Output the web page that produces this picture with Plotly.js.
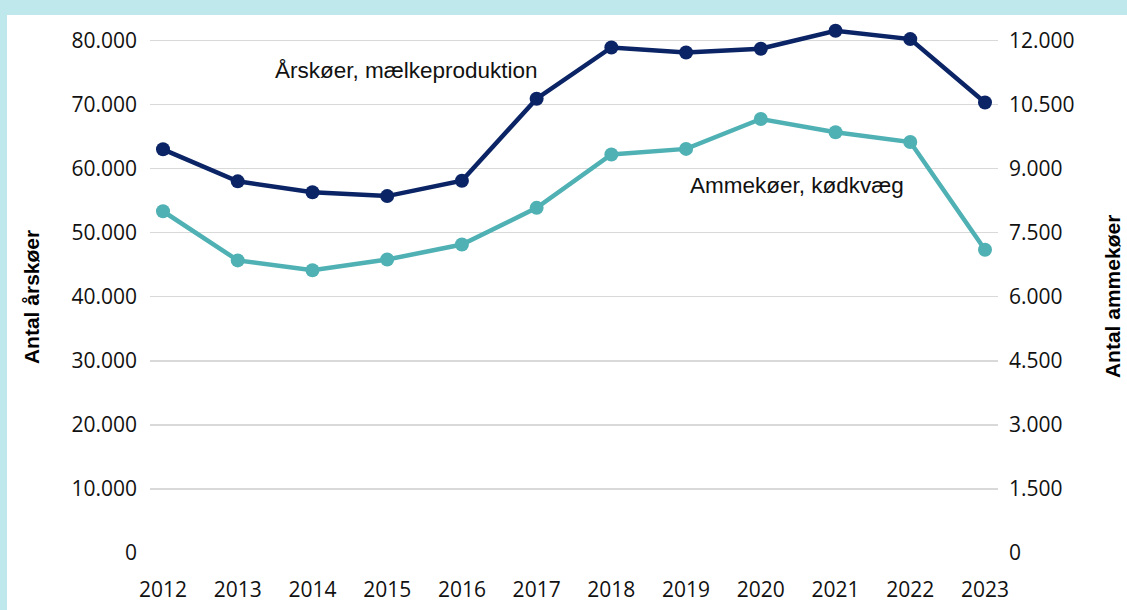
<!DOCTYPE html>
<html>
<head>
<meta charset="utf-8">
<script src="https://cdn.plot.ly/plotly-3.0.1.min.js"></script>
<style>
  html, body { margin: 0; padding: 0; background: #bfe8ed; width: 1127px; height: 610px; overflow: hidden; }
  #card { position: absolute; left: 7px; top: 15px; width: 1120px; height: 595px; background: #ffffff; }
  #chart { position: absolute; left: 0; top: 0; width: 1127px; height: 610px; }
</style>
</head>
<body>
<div id="card"></div>
<div id="chart"></div>
<script>
const years = [2012, 2013, 2014, 2015, 2016, 2017, 2018, 2019, 2020, 2021, 2022, 2023];
const aarskoeer = [63000, 58000, 56300, 55700, 58100, 70900, 78900, 78100, 78700, 81500, 80200, 70300];
const ammekoeer = [8000, 6850, 6620, 6870, 7220, 8080, 9330, 9460, 10160, 9850, 9620, 7100];
const leftTicks = [0, 10000, 20000, 30000, 40000, 50000, 60000, 70000, 80000];
const leftTickText = ['0', '10.000', '20.000', '30.000', '40.000', '50.000', '60.000', '70.000', '80.000'];
const rightTicks = [0, 1500, 3000, 4500, 6000, 7500, 9000, 10500, 12000];
const rightTickText = ['0', '1.500', '3.000', '4.500', '6.000', '7.500', '9.000', '10.500', '12.000'];
const seriesNames = ['Årskøer, mælkeproduktion', 'Ammekøer, kødkvæg'];
const axisTitles = ['Antal årskøer', 'Antal ammekøer'];

const navy = '#0b2466';
const teal = '#4fb1b4';
const tickFont = { family: 'Open Sans, sans-serif', size: 21, color: '#111111' };
const titleFont = { family: 'Liberation Sans, Arial, sans-serif', size: 21, color: '#000000', weight: 'bold' };
const annFont = { family: 'Liberation Sans, Arial, sans-serif', size: 22.5, color: '#111111' };

const traces = [
  {
    x: years, y: aarskoeer, name: seriesNames[0], type: 'scatter', mode: 'lines+markers',
    line: { color: navy, width: 4.5 }, marker: { color: navy, size: 14 },
    cliponaxis: false, yaxis: 'y'
  },
  {
    x: years, y: ammekoeer, name: seriesNames[1], type: 'scatter', mode: 'lines+markers',
    line: { color: teal, width: 4.5 }, marker: { color: teal, size: 14 },
    cliponaxis: false, yaxis: 'y2'
  }
];

const layout = {
  width: 1127, height: 610,
  margin: { l: 150, r: 129, t: 25, b: 57 },
  paper_bgcolor: 'rgba(0,0,0,0)',
  plot_bgcolor: 'rgba(0,0,0,0)',
  showlegend: false,
  xaxis: {
    range: [2011.826, 2023.174],
    tickvals: years,
    ticktext: years.map(String),
    showgrid: false, zeroline: false, showline: false,
    ticks: '', tickfont: tickFont, ticklabelstandoff: 22
  },
  yaxis: {
    range: [0, 82400],
    tickvals: leftTicks, ticktext: leftTickText,
    showgrid: true, gridcolor: '#d9d9d9', gridwidth: 1.5,
    zeroline: false, showline: false, ticks: '',
    tickfont: tickFont, ticklabelstandoff: 12
  },
  yaxis2: {
    range: [0, 12360], overlaying: 'y', side: 'right',
    tickvals: rightTicks, ticktext: rightTickText,
    showgrid: false, zeroline: false, showline: false, ticks: '',
    tickfont: tickFont, ticklabelstandoff: 10
  },
  annotations: [
    {
      x: 2015.265, y: 75300, xref: 'x', yref: 'y', text: seriesNames[0], showarrow: false,
      font: annFont
    },
    {
      x: 2020.48, y: 57400, xref: 'x', yref: 'y', text: seriesNames[1], showarrow: false,
      font: annFont
    },
    {
      x: -0.1403, y: 0.4848, xref: 'paper', yref: 'paper', text: axisTitles[0], showarrow: false,
      textangle: -90, font: titleFont, xanchor: 'center', yanchor: 'middle'
    },
    {
      x: 1.1345, y: 0.4848, xref: 'paper', yref: 'paper', text: axisTitles[1], showarrow: false,
      textangle: -90, font: titleFont, xanchor: 'center', yanchor: 'middle'
    }
  ]
};

Plotly.newPlot('chart', traces, layout, { displayModeBar: false, staticPlot: true });
</script>
</body>
</html>
